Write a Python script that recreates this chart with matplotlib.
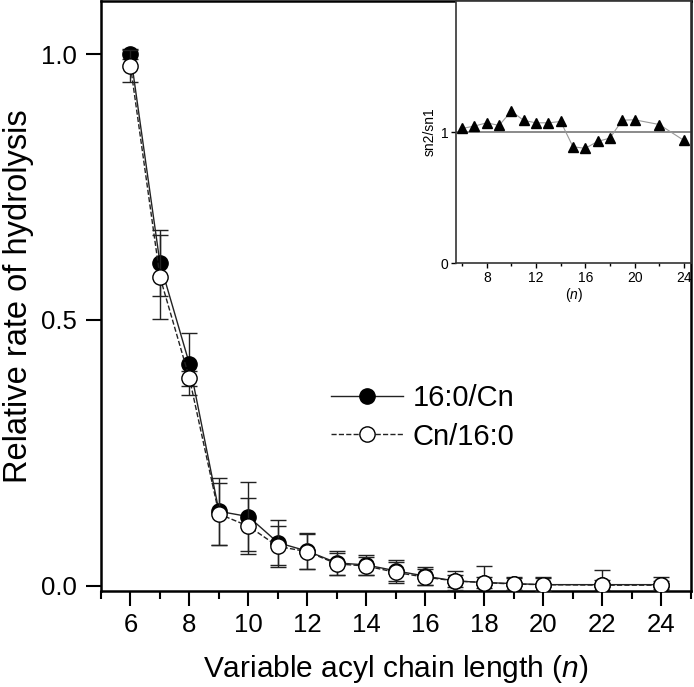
import matplotlib
matplotlib.use("Agg")
import matplotlib.pyplot as plt
from matplotlib.ticker import MultipleLocator, FixedLocator

plt.rcParams['font.family'] = ['Liberation Sans', 'DejaVu Sans']
plt.rcParams['mathtext.fontset'] = 'custom'
plt.rcParams['mathtext.rm'] = 'Liberation Sans'
plt.rcParams['mathtext.it'] = 'Liberation Sans:italic'

# ---- data ----
n = [6, 7, 8, 9, 10, 11, 12, 13, 14, 15, 16, 17, 18, 19, 20, 22, 24]
rate_16_cn = [1.0, 0.607, 0.417, 0.140, 0.130, 0.081, 0.065, 0.043, 0.039,
              0.028, 0.018, 0.009, 0.006, 0.004, 0.002, 0.002, 0.002]
err_16_cn = [0.010, 0.062, 0.058, 0.063, 0.065, 0.042, 0.034, 0.023, 0.018,
             0.020, 0.017, 0.012, 0.032, 0.012, 0.012, 0.027, 0.014]
rate_cn_16 = [0.978, 0.581, 0.390, 0.135, 0.112, 0.074, 0.064, 0.041, 0.037,
              0.025, 0.016, 0.009, 0.006, 0.003, 0.002, 0.001, 0.001]
err_cn_16 = [0.030, 0.079, 0.014, 0.058, 0.053, 0.038, 0.033, 0.020, 0.017,
             0.019, 0.015, 0.018, 0.010, 0.012, 0.015, 0.010, 0.008]
ratio_sn2_sn1 = [1.028, 1.046, 1.071, 1.051, 1.160, 1.089, 1.071, 1.071, 1.081,
                 0.888, 0.876, 0.929, 0.954, 1.091, 1.094, 1.058, 0.937]
series_labels = ['16:0/Cn', 'Cn/16:0']
main_xticks = [6, 8, 10, 12, 14, 16, 18, 20, 22, 24]
main_yticks = [0.0, 0.5, 1.0]
inset_xticks = [8, 12, 16, 20, 24]
inset_yticks = [0, 1]

fig = plt.figure(figsize=(6.94, 6.87), dpi=100)
ax = fig.add_axes([0.1455, 0.1397, 0.85, 0.8588])

ax.errorbar(n, rate_16_cn, yerr=err_16_cn, fmt='-o', color='#222222', lw=1.0,
            ms=11, mfc='black', mec='black', ecolor='#222222', elinewidth=1.0,
            capsize=6, capthick=1.0, label=series_labels[0], zorder=3)
ax.errorbar(n, rate_cn_16, yerr=err_cn_16, fmt='--o', color='#222222', lw=1.0,
            ms=11, mfc='white', mec='black', mew=1.0, ecolor='#222222',
            elinewidth=1.0, capsize=6, capthick=1.0, label=series_labels[1],
            zorder=4)

ax.set_xlim(5, 25)
ax.set_ylim(-0.01, 1.10)
ax.xaxis.set_major_locator(FixedLocator(main_xticks))
ax.xaxis.set_minor_locator(MultipleLocator(1))
ax.yaxis.set_major_locator(FixedLocator(main_yticks))
ax.set_yticklabels(['0.0', '0.5', '1.0'])
ax.tick_params(axis='both', which='major', direction='out', length=11, width=1.5,
               labelsize=18.5)
ax.tick_params(axis='x', which='major', pad=5)
ax.tick_params(axis='y', which='major', pad=6.5)
ax.tick_params(axis='x', which='minor', direction='out', length=6, width=1.5)
for s in ax.spines.values():
    s.set_linewidth(1.8)

ax.set_xlabel('Variable acyl chain length ($\\it{n}$)', fontsize=21.5, labelpad=11)
ax.set_ylabel('Relative rate of hydrolysis', fontsize=23.5, labelpad=5)

h, l = ax.get_legend_handles_labels()
h = [hh[0] for hh in h]
leg = ax.legend(h, l, loc='center left', bbox_to_anchor=(0.346, 0.294),
                frameon=False, fontsize=21, handlelength=2.45, handletextpad=0.35,
                labelspacing=0.35, markerscale=1.0)

# ---- inset ----
ins = fig.add_axes([0.657, 0.617, 0.339, 0.3814])
ins.plot(n, ratio_sn2_sn1, '-^', color='#999999', lw=0.8, ms=6.5,
         mfc='black', mec='black', zorder=3)
ins.axhline(1, color='#777777', lw=1.2, zorder=2)
ins.set_xlim(5.5, 24.6)
ins.set_ylim(0, 2)
ins.xaxis.set_major_locator(FixedLocator(inset_xticks))
ins.xaxis.set_minor_locator(FixedLocator([6, 10, 14, 18, 22]))
ins.yaxis.set_major_locator(FixedLocator(inset_yticks))
ins.tick_params(axis='both', which='major', direction='out', length=3.5, width=1,
                labelsize=10, pad=2)
ins.tick_params(axis='x', which='minor', direction='out', length=2, width=1)
for s in ins.spines.values():
    s.set_linewidth(1.2)
    s.set_color('#333333')
ins.set_xlabel('($\\it{n}$)', fontsize=10, labelpad=1)
ins.set_ylabel('sn2/sn1', fontsize=10, labelpad=3)

fig.savefig('out.png', dpi=100)
